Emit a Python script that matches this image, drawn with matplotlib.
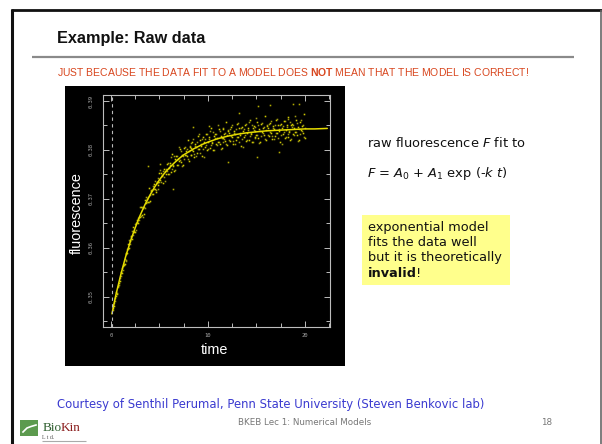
import matplotlib
matplotlib.use("Agg")
import matplotlib.pyplot as plt
from matplotlib.patches import Rectangle
from matplotlib.lines import Line2D
from matplotlib.ticker import FixedLocator, MultipleLocator, FormatStrFormatter

plt.rcParams['mathtext.fontset'] = 'custom'
plt.rcParams['mathtext.rm'] = 'DejaVu Sans'
plt.rcParams['mathtext.it'] = 'DejaVu Sans:italic'
plt.rcParams['mathtext.bf'] = 'Liberation Sans:bold'

# ---------------- data ----------------
time = [0.2, 0.3, 0.4, 0.5, 0.6, 0.7, 0.8, 0.9, 1.0,
        1.1, 1.2, 1.3, 1.4, 1.5, 1.6, 1.7, 1.8, 1.9, 2.0,
        2.1, 2.2, 2.3, 2.4, 2.5, 2.6, 2.7, 2.8, 2.9, 3.0,
        3.1, 3.2, 3.3, 3.4, 3.5, 3.6, 3.7, 3.8, 3.9, 4.0,
        4.1, 4.2, 4.3, 4.4, 4.5, 4.6, 4.7, 4.8, 4.9, 5.0,
        5.1, 5.2, 5.3, 5.4, 5.5, 5.6, 5.7, 5.8, 5.9, 6.0,
        6.1, 6.2, 6.3, 6.4, 6.5, 6.6, 6.7, 6.8, 6.9, 7.0,
        7.1, 7.2, 7.3, 7.4, 7.5, 7.6, 7.7, 7.8, 7.9, 8.0,
        8.1, 8.2, 8.3, 8.4, 8.5, 8.6, 8.7, 8.8, 8.9, 9.0,
        9.1, 9.2, 9.3, 9.4, 9.5, 9.6, 9.7, 9.8, 9.9, 10.0,
        10.1, 10.2, 10.3, 10.4, 10.5, 10.6, 10.7, 10.8, 10.9, 11.0,
        11.1, 11.2, 11.3, 11.4, 11.5, 11.6, 11.7, 11.8, 11.9, 12.0,
        12.1, 12.2, 12.3, 12.4, 12.5, 12.6, 12.7, 12.8, 12.9, 13.0,
        13.1, 13.2, 13.3, 13.4, 13.5, 13.6, 13.7, 13.8, 13.9, 14.0,
        14.1, 14.2, 14.3, 14.4, 14.5, 14.6, 14.7, 14.8, 14.9, 15.0,
        15.1, 15.2, 15.3, 15.4, 15.5, 15.6, 15.7, 15.8, 15.9, 16.0,
        16.1, 16.2, 16.3, 16.4, 16.5, 16.6, 16.7, 16.8, 16.9, 17.0,
        17.1, 17.2, 17.3, 17.4, 17.5, 17.6, 17.7, 17.8, 17.9, 18.0,
        18.1, 18.2, 18.3, 18.4, 18.5, 18.6, 18.7, 18.8, 18.9, 19.0,
        19.1, 19.2, 19.3, 19.4, 19.5, 19.6, 19.7, 19.8, 19.9, 20.0]

fluor_a = [0.3476, 0.3481, 0.3498, 0.3502, 0.3506, 0.3521, 0.3529, 0.3532, 0.3551,
           0.3549, 0.3563, 0.3565, 0.3567, 0.3587, 0.3589, 0.3590, 0.3608, 0.3600, 0.3613,
           0.3624, 0.3618, 0.3642, 0.3633, 0.3632, 0.3650, 0.3656, 0.3651, 0.3662, 0.3662,
           0.3683, 0.3667, 0.3682, 0.3670, 0.3698, 0.3691, 0.3700, 0.3694, 0.3723, 0.3695,
           0.3717, 0.3718, 0.3710, 0.3731, 0.3721, 0.3715, 0.3735, 0.3734, 0.3728, 0.3753,
           0.3738, 0.3752, 0.3746, 0.3733, 0.3761, 0.3757, 0.3751, 0.3771, 0.3751, 0.3763,
           0.3774, 0.3755, 0.3791, 0.3768, 0.3756, 0.3782, 0.3787, 0.3769, 0.3782, 0.3777,
           0.3801, 0.3775, 0.3790, 0.3769, 0.3804, 0.3789, 0.3798, 0.3787, 0.3821, 0.3778,
           0.3807, 0.3804, 0.3790, 0.3817, 0.3798, 0.3785, 0.3812, 0.3807, 0.3794, 0.3829,
           0.3802, 0.3821, 0.3808, 0.3787, 0.3826, 0.3817, 0.3806, 0.3833, 0.3799, 0.3816,
           0.3827, 0.3803, 0.3844, 0.3815, 0.3800, 0.3828, 0.3833, 0.3812, 0.3824, 0.3817,
           0.3843, 0.3812, 0.3829, 0.3803, 0.3842, 0.3824, 0.3833, 0.3819, 0.3858, 0.3810,
           0.3838, 0.3835, 0.3819, 0.3846, 0.3826, 0.3812, 0.3839, 0.3833, 0.3820, 0.3854,
           0.3826, 0.3845, 0.3831, 0.3809, 0.3847, 0.3838, 0.3826, 0.3852, 0.3819, 0.3835,
           0.3845, 0.3821, 0.3862, 0.3832, 0.3816, 0.3844, 0.3848, 0.3827, 0.3839, 0.3831,
           0.3857, 0.3825, 0.3842, 0.3816, 0.3854, 0.3836, 0.3844, 0.3831, 0.3869, 0.3821,
           0.3849, 0.3845, 0.3829, 0.3855, 0.3835, 0.3822, 0.3848, 0.3842, 0.3828, 0.3862,
           0.3834, 0.3852, 0.3838, 0.3816, 0.3854, 0.3845, 0.3833, 0.3859, 0.3825, 0.3841,
           0.3851, 0.3827, 0.3867, 0.3837, 0.3821, 0.3850, 0.3854, 0.3832, 0.3844, 0.3836,
           0.3862, 0.3830, 0.3846, 0.3820, 0.3858, 0.3841, 0.3849, 0.3835, 0.3873, 0.3825]

fluor_b = [0.3472, 0.3488, 0.3492, 0.3509, 0.3507, 0.3520, 0.3523, 0.3539, 0.3542,
           0.3558, 0.3554, 0.3567, 0.3578, 0.3576, 0.3574, 0.3598, 0.3598, 0.3615, 0.3607,
           0.3622, 0.3634, 0.3626, 0.3634, 0.3648, 0.3637, 0.3653, 0.3661, 0.3656, 0.3684,
           0.3666, 0.3684, 0.3663, 0.3684, 0.3681, 0.3704, 0.3693, 0.3704, 0.3693, 0.3708,
           0.3718, 0.3709, 0.3726, 0.3720, 0.3737, 0.3719, 0.3733, 0.3721, 0.3743, 0.3735,
           0.3758, 0.3734, 0.3748, 0.3757, 0.3745, 0.3736, 0.3761, 0.3756, 0.3773, 0.3751,
           0.3770, 0.3786, 0.3762, 0.3769, 0.3787, 0.3758, 0.3780, 0.3787, 0.3770, 0.3806,
           0.3779, 0.3797, 0.3767, 0.3788, 0.3781, 0.3806, 0.3790, 0.3801, 0.3781, 0.3798,
           0.3809, 0.3790, 0.3814, 0.3799, 0.3822, 0.3791, 0.3808, 0.3787, 0.3816, 0.3801,
           0.3832, 0.3793, 0.3812, 0.3823, 0.3802, 0.3785, 0.3822, 0.3811, 0.3833, 0.3802,
           0.3823, 0.3839, 0.3810, 0.3817, 0.3836, 0.3800, 0.3825, 0.3832, 0.3810, 0.3851,
           0.3817, 0.3838, 0.3801, 0.3825, 0.3816, 0.3844, 0.3823, 0.3835, 0.3812, 0.3830,
           0.3840, 0.3821, 0.3843, 0.3828, 0.3850, 0.3818, 0.3835, 0.3813, 0.3842, 0.3826,
           0.3856, 0.3817, 0.3835, 0.3845, 0.3823, 0.3806, 0.3842, 0.3830, 0.3853, 0.3821,
           0.3841, 0.3857, 0.3828, 0.3834, 0.3852, 0.3816, 0.3840, 0.3847, 0.3825, 0.3865,
           0.3831, 0.3851, 0.3814, 0.3838, 0.3828, 0.3856, 0.3834, 0.3847, 0.3823, 0.3841,
           0.3851, 0.3831, 0.3853, 0.3837, 0.3859, 0.3828, 0.3844, 0.3822, 0.3850, 0.3834,
           0.3864, 0.3824, 0.3842, 0.3852, 0.3830, 0.3813, 0.3849, 0.3837, 0.3859, 0.3827,
           0.3847, 0.3863, 0.3833, 0.3839, 0.3857, 0.3822, 0.3846, 0.3852, 0.3830, 0.3870,
           0.3836, 0.3856, 0.3818, 0.3842, 0.3832, 0.3861, 0.3839, 0.3851, 0.3827, 0.3845]

outlier_time = [3.8, 5.1, 6.4, 8.5, 10.1, 12.1, 15.05, 15.2, 16.4, 18.8, 19.4, 13.2, 17.3]
outlier_fluor = [0.3767, 0.3771, 0.3720, 0.3847, 0.3849, 0.3776, 0.3786, 0.3890,
                 0.3891, 0.3894, 0.3893, 0.3875, 0.3795]

fit_time = [0.1, 0.5, 1.0, 1.5, 2.0, 2.5, 3.0, 3.5, 4.0, 4.5, 5.0, 5.5, 6.0, 6.5,
            7.0, 7.5, 8.0, 8.5, 9.0, 9.5, 10, 11, 12, 13, 14, 15, 16, 17, 18,
            19, 20, 21, 22.3]
fit_fluor = [0.3465, 0.3503, 0.3544, 0.3581, 0.3613, 0.3641, 0.3666, 0.3688,
             0.3707, 0.3724, 0.3739, 0.3752, 0.3763, 0.3773, 0.3782, 0.3790,
             0.3796, 0.3802, 0.3807, 0.3812, 0.3816, 0.3823, 0.3828, 0.3832,
             0.3835, 0.3837, 0.3839, 0.3840, 0.3841, 0.3842, 0.3843, 0.3843, 0.3844]

y_ticks = [0.35, 0.36, 0.37, 0.38, 0.39]
x_ticks = [0, 10, 20]

# ---------------- figure ----------------
W, H = 602, 444
fig = plt.figure(figsize=(W / 100, H / 100), dpi=100)
fig.patch.set_facecolor('white')
renderer = fig.canvas.get_renderer()


def fx(x):
    return x / W


def fy(y):
    return 1 - y / H


def hline(x0, x1, y, color, lw):
    fig.add_artist(Line2D([fx(x0), fx(x1)], [fy(y), fy(y)], color=color, lw=lw,
                          transform=fig.transFigure, solid_capstyle='butt'))


def vline(x, y0, y1, color, lw):
    fig.add_artist(Line2D([fx(x), fx(x)], [fy(y0), fy(y1)], color=color, lw=lw,
                          transform=fig.transFigure, solid_capstyle='butt'))


def rect(x0, y0, x1, y1, color, z=0):
    fig.add_artist(Rectangle((fx(x0), fy(y1)), fx(x1) - fx(x0), fy(y0) - fy(y1),
                             transform=fig.transFigure, facecolor=color,
                             edgecolor='none', zorder=z))


# slide frame
hline(10.5, 602, 10, '#111111', 2.0)
vline(12, 9, 444, '#111111', 2.2)
vline(600.8, 10, 444, '#666666', 1.2)

# title and rule
fig.text(fx(57), fy(38), 'Example: Raw data', fontsize=11.7, fontweight='bold',
         family='Liberation Sans', va='center', ha='left', color='#111111')
hline(32, 574, 57.5, '#8a8a8a', 1.6)
fig.text(fx(57), fy(71.5),
         r'JUST BECAUSE THE DATA FIT TO A MODEL DOES $\mathbf{NOT}$ MEAN THAT THE MODEL IS CORRECT!',
         fontsize=7.45, family='Liberation Sans', color='#d8461e', va='center', ha='left')

# chart image background
rect(65, 86, 345, 366, 'black', z=0)

ax = fig.add_axes([fx(103), fy(327), fx(330) - fx(103), fy(95) - fy(327)])
ax.set_facecolor('black')
ax.set_xlim(-0.82, 22.58)
ax.set_ylim(0.34381, 0.39123)

ax.plot(time, fluor_b, linestyle='none', marker='s', ms=1.15, mew=0, color='#9a9612')
ax.plot(time, fluor_a, linestyle='none', marker='s', ms=1.15, mew=0, color='#cfc800')
ax.plot(outlier_time, outlier_fluor, linestyle='none', marker='s', ms=1.15, mew=0,
        color='#b0ab00')
ax.plot(fit_time, fit_fluor, color='#e6dc00', lw=1.1, solid_capstyle='round')
ax.axvline(0.1, color='#bbbbbb', lw=0.8, ls=(0, (3, 3)))

for sp in ax.spines.values():
    sp.set_color('#bdbdbd')
    sp.set_linewidth(0.8)

ax.yaxis.set_major_locator(FixedLocator(y_ticks))
ax.yaxis.set_minor_locator(MultipleLocator(0.005))
ax.xaxis.set_major_locator(FixedLocator(x_ticks))
ax.xaxis.set_minor_locator(MultipleLocator(2.5))
ax.yaxis.set_major_formatter(FormatStrFormatter('%.2f'))
ax.tick_params(which='both', direction='in', top=True, right=True, colors='#bdbdbd',
               width=0.7)
ax.tick_params(which='major', length=4)
ax.tick_params(which='minor', length=3)
ax.tick_params(axis='y', which='major', pad=6.5, labelsize=4, labelcolor='#a8a8a8')
ax.tick_params(axis='x', which='major', pad=4, labelsize=4, labelcolor='#a8a8a8')
for lab in ax.get_yticklabels():
    lab.set_rotation(90)
    lab.set_va('center')
    lab.set_family('DejaVu Sans Mono')
for lab in ax.get_xticklabels():
    lab.set_family('DejaVu Sans Mono')

fig.text(fx(77), fy(213), 'fluorescence', rotation=90, color='white', fontsize=10.4,
         family='Liberation Sans', ha='center', va='center')
fig.text(fx(214), fy(350), 'time', color='white', fontsize=10.4,
         family='Liberation Sans', ha='center', va='center')

# right-hand notes
fig.text(fx(367), fy(143), r'raw fluorescence $F$ fit to', fontsize=9.4,
         family='DejaVu Sans', color='#111111', va='center', ha='left')
fig.text(fx(367), fy(173), r'$F$ = $A_0$ + $A_1$ exp (-$k$ $t$)', fontsize=9.4,
         family='DejaVu Sans', color='#111111', va='center', ha='left')

rect(362, 215, 510, 285, '#ffff8c', z=1)
box = dict(fontsize=9.3, family='DejaVu Sans', color='#111111', zorder=2)
box_lines = ['exponential model', 'fits the data well', 'but it is theoretically']
for i, line in enumerate(box_lines):
    fig.text(fx(368), fy(227 + 15.3 * i), line, va='center', ha='left', **box)
t_bold = fig.text(fx(368), fy(273), 'invalid', fontweight='bold', va='center',
                  ha='left', **box)
bw = t_bold.get_window_extent(renderer=renderer).width
fig.text(fx(368 + bw - 1.0), fy(273), '!', va='center', ha='left', **box)

# footer
fig.text(fx(57), fy(404), 'Courtesy of Senthil Perumal, Penn State University (Steven Benkovic lab)',
         fontsize=8.4, family='DejaVu Sans', color='#3b3bd0', va='center', ha='left')
fig.text(fx(305), fy(422), 'BKEB Lec 1: Numerical Models', fontsize=6.3,
         family='DejaVu Sans', color='#777777', va='center', ha='center')
fig.text(fx(547), fy(422), '18', fontsize=6.3, family='DejaVu Sans', color='#777777',
         va='center', ha='center')

# BioKin logo
rect(20, 420, 38, 436, '#5c9a4e', z=1)
fig.add_artist(Line2D([fx(23), fx(27), fx(31), fx(36)], [fy(432), fy(428), fy(426.5), fy(425)],
                      transform=fig.transFigure, color='white', lw=1.2, zorder=2))
fig.text(fx(61.5), fy(428), 'Bio', fontsize=9.5, family='Liberation Serif',
         color='#2f5f2f', va='center', ha='right')
fig.text(fx(60.5), fy(428), 'Kin', fontsize=9.5, family='Liberation Serif',
         color='#8b1e1e', va='center', ha='left')
fig.text(fx(42), fy(437.5), 'L t d.', fontsize=4.2, family='Liberation Serif',
         color='#555555', va='center', ha='left')
hline(42, 86, 440.5, '#aaaaaa', 0.8)

fig.savefig('out.png', dpi=100, facecolor='white')
